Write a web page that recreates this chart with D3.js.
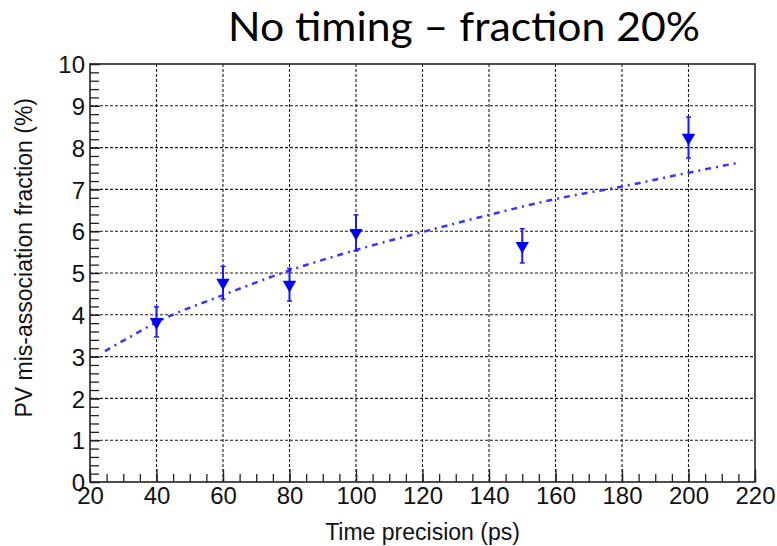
<!DOCTYPE html>
<html>
<head>
<meta charset="utf-8">
<script src="https://cdn.jsdelivr.net/npm/d3@7"></script>
<style>
  body { margin: 0; background: #ffffff; }
  svg { display: block; }
</style>
</head>
<body>
<div id="chart"></div>
<script>
// points
var timePrecision = [40, 60, 80, 100, 150, 200];
var misFraction = [3.83, 4.77, 4.72, 5.96, 5.65, 8.24];
var misError = [0.36, 0.39, 0.39, 0.43, 0.41, 0.49];

// dash-dot fit curve, read at a few places
var fitX = [24.5, 32, 40, 60, 80, 100, 120, 140, 160, 180, 200, 214.5];
var fitY = [3.13, 3.47, 3.82, 4.47, 5.06, 5.55, 5.98, 6.39, 6.77, 7.07, 7.4, 7.63];

var xTicks = [20, 40, 60, 80, 100, 120, 140, 160, 180, 200, 220];
var yTicks = [0, 1, 2, 3, 4, 5, 6, 7, 8, 9, 10];

var chartTitle = "No timing \u2013 fraction 20%";
var xTitle = "Time precision (ps)";
var yTitle = "PV mis-association fraction (%)";

var W = 777, H = 546;
// plot frame (don't call these top/left, window.top is taken)
var fLeft = 90, fRight = 755, fTop = 64, fBottom = 482;

var svg = d3.select("#chart").append("svg")
  .attr("width", W)
  .attr("height", H);

var x = d3.scaleLinear().domain([20, 220]).range([fLeft, fRight]);
var y = d3.scaleLinear().domain([0, 10]).range([fBottom, fTop]);

// grid (dotted, only at the inner major ticks)
var grid = svg.append("g").attr("stroke", "#1a1a1a").attr("stroke-width", 1.1).attr("stroke-dasharray", "3,2");
grid.selectAll("line.gx")
  .data(xTicks.slice(1, -1))
  .enter().append("line")
    .attr("x1", function(d) { return x(d); })
    .attr("x2", function(d) { return x(d); })
    .attr("y1", fTop)
    .attr("y2", fBottom);
grid.selectAll("line.gy")
  .data(yTicks.slice(1, -1))
  .enter().append("line")
    .attr("x1", fLeft)
    .attr("x2", fRight)
    .attr("y1", function(d) { return y(d); })
    .attr("y2", function(d) { return y(d); });

// x axis: ticks pointing up into the frame
var xMinor = d3.range(20, 220.01, 5);
var xAxis = svg.append("g").attr("transform", "translate(0," + fBottom + ")");
xAxis.call(d3.axisBottom(x).tickValues(xMinor).tickSize(-8).tickFormat(""));
xAxis.append("g").call(d3.axisBottom(x).tickValues(xTicks).tickSize(-13).tickFormat(d3.format("d")));
xAxis.selectAll(".domain").remove();

// y axis: ticks pointing right into the frame
var yMinor = d3.range(0, 10.01, 0.2);
var yAxis = svg.append("g").attr("transform", "translate(" + fLeft + ",0)");
yAxis.call(d3.axisLeft(y).tickValues(yMinor).tickSize(-9).tickFormat(""));
yAxis.append("g").call(d3.axisLeft(y).tickValues(yTicks).tickSize(-10).tickFormat(d3.format("d")));
yAxis.selectAll(".domain").remove();

svg.selectAll(".tick line").attr("stroke", "#222").attr("stroke-width", 1.3);
svg.selectAll(".tick text")
  .attr("font-family", "Liberation Sans, Arial, sans-serif")
  .attr("font-size", 24)
  .attr("fill", "#111");
yAxis.selectAll(".tick text").attr("dy", "0.36em").attr("x", -5);
xAxis.selectAll(".tick text").attr("dy", "0.71em").attr("y", 5);

// frame
svg.append("rect")
  .attr("x", fLeft)
  .attr("y", fTop)
  .attr("width", fRight - fLeft)
  .attr("height", fBottom - fTop)
  .attr("fill", "none")
  .attr("stroke", "#222")
  .attr("stroke-width", 1.6);

// fit curve
var fitData = fitX.map(function(d, i) { return [d, fitY[i]]; });
var fitLine = d3.line()
  .x(function(d) { return x(d[0]); })
  .y(function(d) { return y(d[1]); })
  .curve(d3.curveMonotoneX);
svg.append("path")
  .datum(fitData)
  .attr("d", fitLine)
  .attr("fill", "none")
  .attr("stroke", "#3535ff")
  .attr("stroke-width", 2.5)
  .attr("stroke-dasharray", "6,5,2,5");

// error bars
var points = timePrecision.map(function(d, i) { return {t: d, v: misFraction[i], e: misError[i]}; });
var bars = svg.append("g").attr("stroke", "#1a1aff").attr("stroke-width", 2);
bars.selectAll("line.err")
  .data(points)
  .enter().append("line")
    .attr("x1", function(d) { return x(d.t); })
    .attr("x2", function(d) { return x(d.t); })
    .attr("y1", function(d) { return y(d.v + d.e); })
    .attr("y2", function(d) { return y(d.v - d.e); });
bars.selectAll("line.capTop")
  .data(points)
  .enter().append("line")
    .attr("stroke-width", 1.5)
    .attr("x1", function(d) { return x(d.t) - 2.5; })
    .attr("x2", function(d) { return x(d.t) + 2.5; })
    .attr("y1", function(d) { return y(d.v + d.e); })
    .attr("y2", function(d) { return y(d.v + d.e); });
bars.selectAll("line.capBot")
  .data(points)
  .enter().append("line")
    .attr("stroke-width", 1.5)
    .attr("x1", function(d) { return x(d.t) - 2.5; })
    .attr("x2", function(d) { return x(d.t) + 2.5; })
    .attr("y1", function(d) { return y(d.v - d.e); })
    .attr("y2", function(d) { return y(d.v - d.e); });

// down triangles
var tri = d3.symbol().type(d3.symbolTriangle).size(78);
svg.selectAll("path.marker")
  .data(points)
  .enter().append("path")
    .attr("class", "marker")
    .attr("d", tri)
    .attr("transform", function(d) { return "translate(" + x(d.t) + "," + y(d.v) + ") rotate(180)"; })
    .attr("fill", "#0000ff");

// titles
svg.append("text")
  .attr("x", (fLeft + fRight) / 2)
  .attr("y", 540)
  .attr("text-anchor", "middle")
  .attr("font-family", "Liberation Sans, Arial, sans-serif")
  .attr("font-size", 23)
  .attr("fill", "#111")
  .text(xTitle);

svg.append("text")
  .attr("transform", "translate(32,98) rotate(-90)")
  .attr("text-anchor", "end")
  .attr("font-family", "Liberation Sans, Arial, sans-serif")
  .attr("font-size", 23)
  .attr("fill", "#111")
  .text(yTitle);

svg.append("text")
  .attr("x", 228)
  .attr("y", 41)
  .attr("font-family", "Lato, 'Open Sans', sans-serif")
  .attr("font-size", 41)
  .attr("textLength", 472)
  .attr("lengthAdjust", "spacingAndGlyphs")
  .attr("fill", "#000")
  .text(chartTitle);
</script>
</body>
</html>
